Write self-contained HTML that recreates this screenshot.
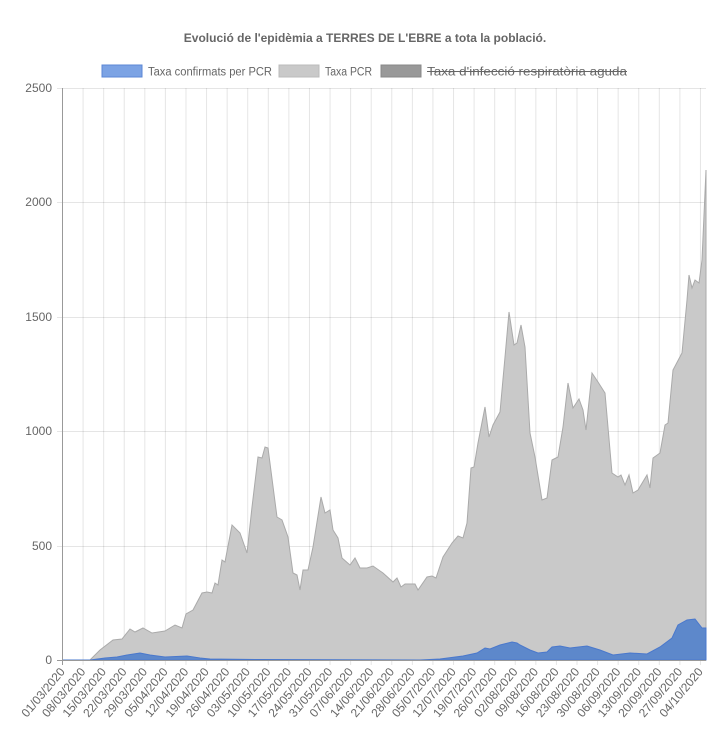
<!DOCTYPE html>
<html><head><meta charset="utf-8"><style>
body{margin:0;background:#fff;}
svg{display:block;font-family:"Liberation Sans",Arial,sans-serif;}
</style></head><body>
<svg width="726" height="742" viewBox="0 0 726 742" xmlns="http://www.w3.org/2000/svg">
<rect width="726" height="742" fill="#fff"/>
<text x="365" y="42" text-anchor="middle" font-size="12" font-weight="bold" fill="#666">Evolució de l'epidèmia a TERRES DE L'EBRE a tota la població.</text>
<rect x="102" y="65" width="40" height="12" fill="#7ca3e4" stroke="#5b87d6" stroke-width="1"/>
<text x="148" y="75.5" font-size="11.5" fill="#666" textLength="124" lengthAdjust="spacingAndGlyphs">Taxa confirmats per PCR</text>
<rect x="279" y="65" width="40" height="12" fill="#c9c9c9" stroke="#bbb" stroke-width="1"/>
<text x="325" y="75.5" font-size="11.5" fill="#666" textLength="47" lengthAdjust="spacingAndGlyphs">Taxa PCR</text>
<rect x="381" y="65" width="40" height="12" fill="#999" stroke="#888" stroke-width="1"/>
<text x="427" y="75.5" font-size="11.5" fill="#666" textLength="200" lengthAdjust="spacingAndGlyphs">Taxa d'infecció respiratòria aguda</text>
<line x1="427" y1="71.5" x2="627" y2="71.5" stroke="#666" stroke-width="1"/>
<g stroke="rgba(0,0,0,0.1)" stroke-width="1">
<line x1="57" y1="88.5" x2="706" y2="88.5"/>
<line x1="57" y1="202.5" x2="706" y2="202.5"/>
<line x1="57" y1="317.5" x2="706" y2="317.5"/>
<line x1="57" y1="431.5" x2="706" y2="431.5"/>
<line x1="57" y1="546.5" x2="706" y2="546.5"/>
</g>
<g id="vg" stroke="rgba(0,0,0,0.1)" stroke-width="1"></g>
<path fill="#c9c9c9" stroke="#aaa" stroke-width="1" d="M62,660 L90,660 L100,650 L113,640 L122,639 L130,629 L135,632 L143,628 L152,633 L165,631 L175,625 L182,628 L186,614 L193,610 L202,593 L207,592 L212,593 L215,583 L218,585 L222,560 L225,562 L232,525 L240,533 L247,553 L252,507 L258,457 L262,458 L265,447 L268,448 L277,517 L282,520 L288,537 L293,573 L297,575 L300,590 L303,570 L308,570 L313,547 L321,497 L325,513 L330,510 L333,530 L338,538 L342,558 L350,565 L355,558 L360,568 L367,568 L373,566 L383,573 L393,582 L397,578 L401,587 L405,584 L415,584 L418,590 L427,577 L432,576 L436,578 L443,557 L452,543 L458,536 L463,538 L467,523 L471,468 L474,467 L478,443 L485,407 L489,437 L493,425 L500,412 L505,357 L509,312 L514,345 L517,343 L521,325 L525,347 L530,433 L535,457 L542,500 L547,498 L552,460 L558,457 L563,427 L568,383 L573,408 L579,399 L583,410 L586,430 L592,373 L598,382 L605,393 L612,473 L618,477 L621,475 L625,485 L629,475 L633,493 L638,490 L647,475 L650,488 L653,458 L660,453 L665,425 L668,423 L673,370 L682,353 L687,300 L689,275 L692,288 L695,280 L699,283 L702,260 L706,170 L706,660 Z"/>
<path fill="#5d88cb" stroke="#4a78cc" stroke-width="1" d="M62,660 L90,660 L105,658 L117,657 L127,655 L140,653 L150,655 L165,657 L187,656 L200,658 L210,659 L260,659.5 L420,660 L440,659 L463,656 L477,653 L485,648 L490,649 L500,645 L512,642 L517,643 L520,645 L530,650 L538,653 L547,652 L552,647 L560,646 L570,648 L587,646 L600,650 L613,655 L630,653 L647,654 L660,647 L672,638 L678,625 L687,620 L695,619 L702,628 L706,628 L706,660 Z"/>
<line x1="62.5" y1="88" x2="62.5" y2="665" stroke="#999" stroke-width="1"/>
<line x1="57" y1="660.5" x2="706" y2="660.5" stroke="#999" stroke-width="1"/>
<g font-size="12" fill="#666" text-anchor="end">
<text x="52" y="92">2500</text>
<text x="52" y="206">2000</text>
<text x="52" y="321">1500</text>
<text x="52" y="435">1000</text>
<text x="52" y="550">500</text>
<text x="52" y="664">0</text>
</g>
<g id="xl" font-size="12" fill="#666" text-anchor="end"></g>
<script>
var labels=["01/03/2020","08/03/2020","15/03/2020","22/03/2020","29/03/2020","05/04/2020","12/04/2020","19/04/2020","26/04/2020","03/05/2020","10/05/2020","17/05/2020","24/05/2020","31/05/2020","07/06/2020","14/06/2020","21/06/2020","28/06/2020","05/07/2020","12/07/2020","19/07/2020","26/07/2020","02/08/2020","09/08/2020","16/08/2020","23/08/2020","30/08/2020","06/09/2020","13/09/2020","20/09/2020","27/09/2020","04/10/2020"];
var ns="http://www.w3.org/2000/svg",vg=document.getElementById("vg"),xl=document.getElementById("xl");
for(var k=0;k<32;k++){var x=62.5+20.58*k;
if(k>0){var l=document.createElementNS(ns,"line");l.setAttribute("x1",x);l.setAttribute("x2",x);l.setAttribute("y1",88);l.setAttribute("y2",665);vg.appendChild(l);}
var t=document.createElementNS(ns,"text");t.setAttribute("transform","translate("+(x+3)+",672) rotate(-50)");t.textContent=labels[k];xl.appendChild(t);}
</script>
</svg>
</body></html>
